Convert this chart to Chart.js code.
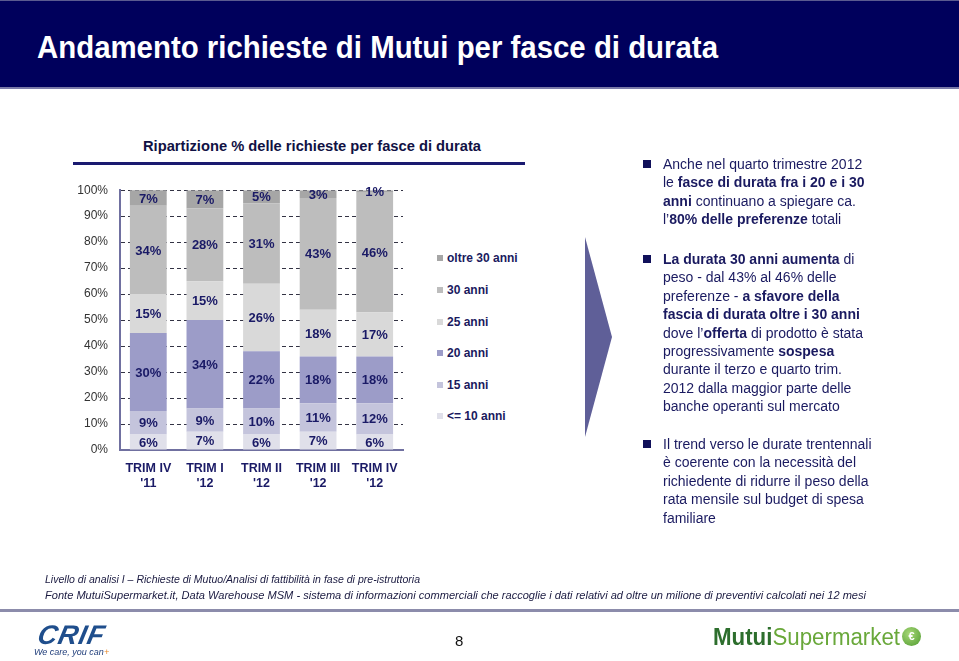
<!DOCTYPE html>
<html>
<head>
<meta charset="utf-8">
<script src="https://cdn.jsdelivr.net/npm/chart.js@4.4.1/dist/chart.umd.min.js"></script>
<style>
  body { margin: 0; width: 959px; height: 661px; background: #fff; position: relative; overflow: hidden;
         font-family: "Liberation Sans", Arial, sans-serif; }
  .abs { position: absolute; }
  #titlebar { left: 0; top: 0; width: 959px; height: 86px; background: #00005c;
              border-top: 1px solid #5a5a90; border-bottom: 2px solid #7a7aa8; }
  #title { left: 37px; top: 32px; color: #fff; font-weight: bold; font-size: 31px; line-height: 1;
           white-space: nowrap; transform-origin: 0 0; }
  #charttitle { left: 143px; top: 139px; color: #111144; font-weight: bold; font-size: 14px; line-height: 1;
                white-space: nowrap; transform-origin: 0 0; }
  #titleline { left: 73px; top: 162px; width: 452px; height: 3px; background: #1a1a70; }
  #chartbox { left: 60px; top: 171px; width: 350px; height: 329px; }
  .leg { position: absolute; left: 437px; font-size: 12px; font-weight: bold; color: #1a1a5e;
         line-height: 14px; white-space: nowrap; }
  .leg i { display: inline-block; width: 6px; height: 6px; margin-right: 4px; vertical-align: 1px; }
  .bul { position: absolute; left: 663px; font-size: 14px; line-height: 18.4px; color: #1a1a60; white-space: nowrap; }
  .sq { position: absolute; left: 643px; width: 8px; height: 8px; background: #10105a; }
  .foot { position: absolute; left: 45px; font-size: 11.5px; font-style: italic; color: #1a1a40;
          white-space: nowrap; transform-origin: 0 0; line-height: 1; }
  #footline { left: 0; top: 609px; width: 959px; height: 3px; background: #8c8cab; }
  #page { left: 455px; top: 632px; font-size: 15px; color: #111; }
  #crif { left: 38px; top: 622px; font-size: 27px; font-weight: bold; font-style: italic; color: #1f4e8c;
          letter-spacing: 1px; transform: skewX(-12deg); line-height: 1; }
  #crif2 { left: 34px; top: 648px; font-size: 9px; font-style: italic; color: #1f3d7a; line-height: 1; }
  #mutui { left: 713px; top: 626px; font-size: 23px; line-height: 1; white-space: nowrap; transform-origin: 0 0; }
  #icon { left: 902px; top: 627px; width: 19px; height: 19px; border-radius: 50%;
          background: radial-gradient(circle at 40% 35%, #a8d878, #4e9a2e); color: #fff; font-size: 11px;
          font-weight: bold; text-align: center; line-height: 19px; }
</style>
</head>
<body>
<div id="titlebar" class="abs"></div>
<div id="title" class="abs" data-w="681">Andamento richieste di Mutui per fasce di durata</div>
<div id="charttitle" class="abs" data-w="338">Ripartizione % delle richieste per fasce di durata</div>
<div id="titleline" class="abs"></div>
<div id="chartbox" class="abs"><canvas id="chart"></canvas></div>
<div id="legend"></div>

<svg class="abs" style="left:0;top:0" width="959" height="661">
  <polygon points="585,237 612,337 585,437" fill="#5f5f98"/>
</svg>

<div class="sq" style="top:160px"></div>
<div class="bul" style="top:155px">Anche nel quarto trimestre 2012<br>le <b>fasce di durata fra i 20 e i 30</b><br><b>anni</b> continuano a spiegare ca.<br>l’<b>80% delle preferenze</b> totali</div>
<div class="sq" style="top:255px"></div>
<div class="bul" style="top:250px"><b>La durata 30 anni aumenta</b> di<br>peso - dal 43% al 46% delle<br>preferenze - <b>a sfavore della</b><br><b>fascia di durata oltre i 30 anni</b><br>dove l’<b>offerta</b> di prodotto è stata<br>progressivamente <b>sospesa</b><br>durante il terzo e quarto trim.<br>2012 dalla maggior parte delle<br>banche operanti sul mercato</div>
<div class="sq" style="top:440px"></div>
<div class="bul" style="top:435px">Il trend verso le durate trentennali<br>è coerente con la necessità del<br>richiedente di ridurre il peso della<br>rata mensile sul budget di spesa<br>familiare</div>

<div class="foot" style="top:574px" data-w="375">Livello di analisi I – Richieste di Mutuo/Analisi di fattibilità in fase di pre-istruttoria</div>
<div class="foot" style="top:590px" data-w="821">Fonte MutuiSupermarket.it, Data Warehouse MSM - sistema di informazioni commerciali che raccoglie i dati relativi ad oltre un milione di preventivi calcolati nei 12 mesi</div>
<div id="footline" class="abs"></div>
<div id="page" class="abs">8</div>
<div id="crif" class="abs">CRIF</div>
<div id="crif2" class="abs">We care, you can<span style="color:#e8892a">+</span></div>
<div id="mutui" class="abs" data-w="187"><b style="color:#2d6e2d">Mutui</b><span style="color:#69a83a">Supermarket</span></div>
<div id="icon" class="abs">€</div>

<script>
// categories
const categories = [["TRIM IV", "'11"], ["TRIM I", "'12"], ["TRIM II", "'12"], ["TRIM III", "'12"], ["TRIM IV", "'12"]];

// series (bottom to top)
const seriesNames = ["<= 10 anni", "15 anni", "20 anni", "25 anni", "30 anni", "oltre 30 anni"];
const fino10 = [6, 7, 6, 7, 6];
const anni15 = [9, 9, 10, 11, 12];
const anni20 = [30, 34, 22, 18, 18];
const anni25 = [15, 15, 26, 18, 17];
const anni30 = [34, 28, 31, 43, 46];
const oltre30 = [7, 7, 5, 3, 1];

// tick labels
const yTicks = [0, 10, 20, 30, 40, 50, 60, 70, 80, 90, 100];

const colors = ["#e0e0ea", "#c4c4dc", "#9c9cc8", "#d9d9d9", "#bdbdbd", "#a6a6a6"];
const series = [fino10, anni15, anni20, anni25, anni30, oltre30];

// legend (top to bottom, reversed)
const legendTops = [251, 283, 315, 346, 378, 409];
const legendEl = document.getElementById("legend");
seriesNames.slice().reverse().forEach((name, i) => {
    const div = document.createElement("div");
    div.className = "leg";
    div.style.top = legendTops[i] + "px";
    const box = document.createElement("i");
    box.style.background = colors[colors.length - 1 - i];
    div.appendChild(box);
    div.appendChild(document.createTextNode(name));
    legendEl.appendChild(div);
});

// labels inside the bars
const barLabels = {
    id: "barLabels",
    afterDatasetsDraw(chart) {
        const ctx = chart.ctx;
        const area = chart.chartArea;
        ctx.save();
        ctx.font = "bold 13px 'Liberation Sans', Arial";
        ctx.fillStyle = "#1a1a66";
        ctx.textAlign = "center";
        ctx.textBaseline = "middle";
        chart.data.datasets.forEach((ds, di) => {
            chart.getDatasetMeta(di).data.forEach((bar, i) => {
                const top = Math.max(bar.y, area.top);
                const y = (top + bar.base) / 2;
                ctx.fillText(ds.data[i] + "%", bar.x, y + 1);
            });
        });
        ctx.restore();
    }
};

new Chart(document.getElementById("chart"), {
    type: "bar",
    data: {
        labels: categories,
        datasets: series.map((vals, i) => ({
            label: seriesNames[i],
            data: vals,
            backgroundColor: colors[i],
            borderWidth: 0,
            barPercentage: 0.65,
            categoryPercentage: 1
        }))
    },
    options: {
        responsive: true,
        maintainAspectRatio: false,
        animation: false,
        layout: { padding: { top: 1, right: 7, left: 0, bottom: 0 } },
        plugins: { legend: { display: false }, tooltip: { enabled: false } },
        scales: {
            x: {
                stacked: true,
                grid: { display: false },
                border: { display: true, color: "#7070a0", width: 2 },
                ticks: {
                    color: "#1a1a66",
                    padding: 3,
                    font: { family: "'Liberation Sans', Arial", size: 12.5, weight: "bold", lineHeight: 1.18 }
                },
                afterFit(scale) { scale.height = 50; }
            },
            y: {
                stacked: true,
                min: 0,
                max: 100,
                afterBuildTicks(scale) { scale.ticks = yTicks.map(v => ({ value: v })); },
                grid: {
                    drawTicks: false,
                    color: ctx => ctx.tick && ctx.tick.value === 0 ? "rgba(0,0,0,0)" : "#333344",
                    lineWidth: 1
                },
                border: { display: true, color: "#7070a0", width: 2, dash: [4, 3] },
                ticks: {
                    color: "#333",
                    padding: 12,
                    font: { family: "'Liberation Sans', Arial", size: 12 },
                    callback: v => v + "%"
                },
                afterFit(scale) { scale.width = 60; }
            }
        }
    },
    plugins: [barLabels]
});

// squeeze text blocks to their widths in the slide
document.querySelectorAll("[data-w]").forEach(el => {
    const w = el.getBoundingClientRect().width;
    const target = +el.dataset.w;
    el.style.transform = "scaleX(" + (target / w) + ")";
});
</script>
</body>
</html>
